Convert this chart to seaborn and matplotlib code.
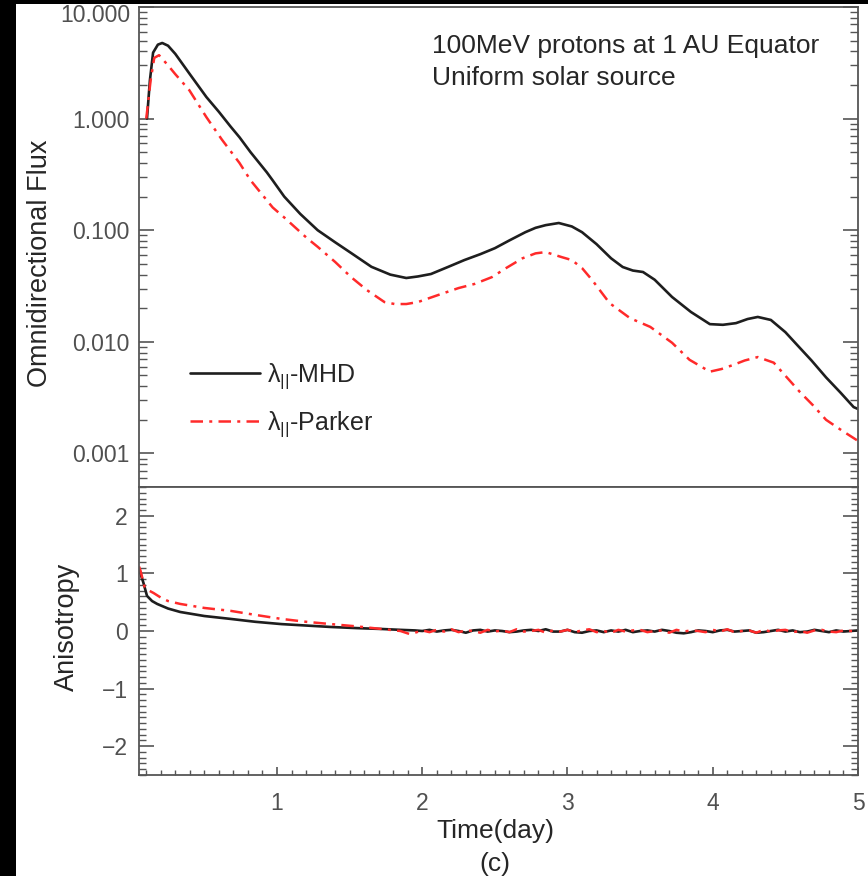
import numpy as np
import pandas as pd
import matplotlib
matplotlib.use("Agg")
import matplotlib.pyplot as plt
import seaborn as sns
from matplotlib.patches import Rectangle
from matplotlib.ticker import FixedLocator, FixedFormatter, LogLocator, NullFormatter, MultipleLocator

# ---------------- data ----------------
t_mhd = [0.105, 0.125, 0.147, 0.18, 0.21, 0.25, 0.30, 0.40, 0.514, 0.60,
         0.68, 0.742, 0.818, 0.93, 0.97, 1.05, 1.16, 1.28, 1.40, 1.51,
         1.65, 1.78, 1.89, 1.97, 2.06, 2.18, 2.29, 2.40, 2.50, 2.60,
         2.71, 2.78, 2.85, 2.94, 3.03, 3.10, 3.20, 3.30, 3.38, 3.45,
         3.52, 3.60, 3.72, 3.85, 3.98, 4.07, 4.16, 4.24, 4.31, 4.40,
         4.50, 4.58, 4.68, 4.78, 4.88, 4.97, 5.0]
flux_mhd = [1.0, 2.2, 3.9, 4.6, 4.76, 4.5, 3.8, 2.5, 1.56, 1.15,
            0.85, 0.68, 0.50, 0.33, 0.28, 0.20, 0.14, 0.10, 0.078, 0.0625,
            0.047, 0.040, 0.0373, 0.0385, 0.0405, 0.047, 0.054, 0.061, 0.069, 0.081,
            0.096, 0.105, 0.111, 0.116, 0.108, 0.096, 0.075, 0.056, 0.0468, 0.0435,
            0.0422, 0.036, 0.0252, 0.0185, 0.0144, 0.0142, 0.0147, 0.016, 0.0167, 0.0157,
            0.0122, 0.0094, 0.0068, 0.0048, 0.0035, 0.0026, 0.0025]

t_parker = [0.10, 0.13, 0.155, 0.188, 0.25, 0.30, 0.396, 0.514, 0.62, 0.742,
            0.818, 0.97, 1.05, 1.206, 1.28, 1.40, 1.51, 1.62, 1.74, 1.81,
            1.89, 1.97, 2.10, 2.25, 2.36, 2.48, 2.58, 2.69, 2.78, 2.85,
            2.96, 3.03, 3.10, 3.17, 3.29, 3.43, 3.57, 3.72, 3.84, 3.98,
            4.06, 4.14, 4.22, 4.31, 4.42, 4.51, 4.60, 4.69, 4.78, 4.89,
            4.99, 5.0]
flux_parker = [1.0, 2.2, 3.5, 3.7, 3.0, 2.5, 1.8, 1.03, 0.65, 0.40,
               0.28, 0.16, 0.13, 0.085, 0.071, 0.052, 0.038, 0.029, 0.0227, 0.0218,
               0.0218, 0.0227, 0.026, 0.0303, 0.033, 0.038, 0.046, 0.056, 0.062, 0.0637,
               0.0574, 0.054, 0.0458, 0.0357, 0.0222, 0.0163, 0.0136, 0.0098, 0.0069, 0.0054,
               0.0057, 0.0062, 0.0068, 0.0073, 0.0065, 0.0048, 0.00355, 0.0027, 0.0020, 0.0016,
               0.00132, 0.0013]

t_aniso_mhd = [0.05, 0.06, 0.08, 0.105, 0.14, 0.175, 0.25, 0.334, 0.5, 0.68, 0.85, 1.03, 1.2, 1.37,
               1.55, 1.72, 1.85, 1.95,
               2.0, 2.05, 2.1, 2.15, 2.2, 2.25, 2.3, 2.35, 2.4, 2.45, 2.5, 2.55, 2.6, 2.65, 2.7, 2.75,
               2.8, 2.85, 2.9, 2.95, 3.0, 3.05, 3.1, 3.15, 3.2, 3.25, 3.3, 3.35, 3.4, 3.45, 3.5, 3.55,
               3.6, 3.65, 3.7, 3.75, 3.8, 3.85, 3.9, 3.95, 4.0, 4.05, 4.1, 4.15, 4.2, 4.25, 4.3, 4.35,
               4.4, 4.45, 4.5, 4.55, 4.6, 4.65, 4.7, 4.75, 4.8, 4.85, 4.9, 4.95, 5.0]
aniso_mhd = [1.08, 1.0, 0.84, 0.61, 0.52, 0.47, 0.39, 0.33, 0.26, 0.21, 0.16, 0.12, 0.095, 0.07,
             0.05, 0.035, 0.02, 0.01,
             0.0, 0.02, -0.01, 0.01, 0.02, 0.0, -0.03, 0.01, 0.02, -0.01, 0.01, 0.0, -0.02, -0.01, 0.01, 0.02,
             0.0, 0.03, -0.01, -0.01, 0.02, -0.02, -0.03, 0.0, 0.01, -0.02, 0.01, -0.01, 0.02, -0.02, 0.0, 0.01,
             -0.01, 0.02, 0.0, -0.03, -0.04, -0.02, 0.01, 0.0, -0.02, 0.01, 0.02, -0.01, 0.0, 0.01, -0.03, -0.02,
             0.0, 0.02, -0.01, 0.01, -0.02, -0.01, 0.02, 0.0, -0.02, 0.01, -0.01, 0.0, 0.01]

t_aniso_parker = [0.05, 0.06, 0.075, 0.09, 0.12, 0.15, 0.2, 0.25, 0.334, 0.5, 0.68, 0.85, 1.03, 1.2,
                  1.37, 1.55, 1.72, 1.85, 1.91, 1.95,
                  2.0, 2.05, 2.1, 2.15, 2.2, 2.25, 2.3, 2.35, 2.4, 2.45, 2.5, 2.55, 2.6, 2.65, 2.7, 2.75,
                  2.8, 2.85, 2.9, 2.95, 3.0, 3.05, 3.1, 3.15, 3.2, 3.25, 3.3, 3.35, 3.4, 3.45, 3.5, 3.55,
                  3.6, 3.65, 3.7, 3.75, 3.8, 3.85, 3.9, 3.95, 4.0, 4.05, 4.1, 4.15, 4.2, 4.25, 4.3, 4.35,
                  4.4, 4.45, 4.5, 4.55, 4.6, 4.65, 4.7, 4.75, 4.8, 4.85, 4.9, 4.95, 5.0]
aniso_parker = [1.12, 1.05, 0.9, 0.75, 0.70, 0.66, 0.58, 0.52, 0.47, 0.40, 0.35, 0.28, 0.21, 0.16,
                0.12, 0.08, 0.035, 0.0, -0.05, -0.03,
                0.01, -0.02, 0.02, -0.01, 0.03, -0.02, 0.01, 0.0, -0.03, 0.02, -0.01, 0.01, -0.02, 0.03, -0.01, 0.0,
                0.02, -0.03, 0.01, -0.01, 0.02, -0.02, 0.01, 0.03, -0.02, 0.0, -0.03, 0.02, -0.01, 0.01, 0.02, -0.02,
                0.0, 0.01, -0.03, 0.02, -0.01, 0.01, 0.0, -0.02, 0.02, -0.01, 0.03, -0.02, 0.0, 0.01, -0.03, 0.02,
                -0.01, 0.01, 0.02, -0.02, 0.0, -0.03, 0.01, 0.02, -0.01, -0.02, 0.01, 0.0, -0.01]

flux_ticks = [0.001, 0.01, 0.1, 1.0, 10.0]
flux_ticklabels = ["0.001", "0.010", "0.100", "1.000", "10.000"]
aniso_ticks = [-2, -1, 0, 1, 2]
aniso_ticklabels = ["\u22122", "\u22121", "0", "1", "2"]
time_ticks = [1, 2, 3, 4, 5]
time_ticklabels = ["1", "2", "3", "4", "5"]
series_labels = ["\u03bb$_{\\mathrm{||}}$-MHD", "\u03bb$_{\\mathrm{||}}$-Parker"]

# ---------------- style ----------------
sns.set_style("white")
plt.rcParams["font.family"] = ["Liberation Sans", "DejaVu Sans"]
plt.rcParams["mathtext.fontset"] = "custom"
plt.rcParams["mathtext.rm"] = "Liberation Sans"
plt.rcParams["mathtext.it"] = "Liberation Sans:italic"
plt.rcParams["axes.unicode_minus"] = True

W, H = 868, 876
fx = lambda px: px / W
fy = lambda py: 1 - py / H

fig = plt.figure(figsize=(W / 100, H / 100), dpi=100, facecolor="black")
fig.add_artist(Rectangle((fx(16), 0), 1 - fx(16), 1 - 4 / H, transform=fig.transFigure,
                         facecolor="white", edgecolor="none", zorder=-10))

ax1 = fig.add_axes([fx(139), fy(487), (858 - 139) / W, (487 - 7) / H])
ax2 = fig.add_axes([fx(139), fy(775), (858 - 139) / W, (775 - 487) / H])

BLACK = "#1e1e1e"
RED = "#ff2a2a"
SPINE = "#555555"
TXT = "#262626"
TICKTXT = "#505050"

# upper panel
sns.lineplot(x=t_mhd, y=flux_mhd, ax=ax1, color=BLACK, lw=1.9, label=series_labels[0], sort=False)
sns.lineplot(x=t_parker, y=flux_parker, ax=ax1, color=RED, lw=1.8, label=series_labels[1], sort=False)
ax1.lines[1].set_dashes([5, 2.5, 1.2, 2.5])
ax1.set_yscale("log")
ax1.set_xlim(0.05, 5)
ax1.set_ylim(5e-4, 10)
ax1.yaxis.set_major_locator(FixedLocator(flux_ticks))
# the top label sits a little below its tick in the reference; it is drawn separately below
ax1.yaxis.set_major_formatter(FixedFormatter(flux_ticklabels[:-1] + [""]))
ax1.yaxis.set_minor_locator(LogLocator(base=10, subs=np.arange(2, 10), numticks=20))
ax1.yaxis.set_minor_formatter(NullFormatter())
ax1.tick_params(axis="x", which="both", bottom=False, top=False, labelbottom=False)
ax1.tick_params(axis="y", which="major", direction="in", left=True, right=True, length=11, width=1.2,
                color=SPINE, labelsize=16.5, labelcolor=TICKTXT, pad=6.5)
ax1.tick_params(axis="y", which="minor", direction="in", left=True, right=True, length=5.5, width=1.0,
                color=SPINE)
ax1.set_xlabel("")
ax1.set_ylabel("")

leg = ax1.legend(loc="upper left", bbox_to_anchor=(0.0709, 0.262), frameon=False, fontsize=18,
                 handlelength=2.8, handletextpad=0.3, labelspacing=0.75, borderpad=0, borderaxespad=0)
for txt in leg.get_texts():
    txt.set_color(TXT)

# lower panel
sns.lineplot(x=t_aniso_mhd, y=aniso_mhd, ax=ax2, color=BLACK, lw=1.9, legend=False, sort=False)
sns.lineplot(x=t_aniso_parker, y=aniso_parker, ax=ax2, color=RED, lw=1.8, legend=False, sort=False)
ax2.lines[1].set_dashes([5, 2.5, 1.2, 2.5])
ax2.set_xlim(0.05, 5)
ax2.set_ylim(-2.5, 2.5)
ax2.yaxis.set_major_locator(FixedLocator(aniso_ticks))
ax2.yaxis.set_major_formatter(FixedFormatter(aniso_ticklabels))
ax2.yaxis.set_minor_locator(MultipleLocator(0.1))
ax2.xaxis.set_major_locator(FixedLocator(time_ticks))
ax2.xaxis.set_major_formatter(FixedFormatter(time_ticklabels))
ax2.xaxis.set_minor_locator(MultipleLocator(0.1))
ax2.tick_params(axis="y", which="major", direction="in", left=True, right=True, length=11, width=1.2,
                color=SPINE, labelsize=16.5, labelcolor=TICKTXT, pad=8)
ax2.tick_params(axis="y", which="minor", direction="in", left=True, right=True, length=5, width=1.0,
                color=SPINE)
ax2.tick_params(axis="x", which="major", direction="in", bottom=True, top=False, length=6, width=1.2,
                color=SPINE, labelsize=16.5, labelcolor=TICKTXT, pad=12)
ax2.tick_params(axis="x", which="minor", direction="in", bottom=True, top=False, length=3.5, width=1.0,
                color=SPINE)
ax2.set_xlabel("")
ax2.set_ylabel("")

for ax in (ax1, ax2):
    ax.set_facecolor("white")
    for s in ax.spines.values():
        s.set_color(SPINE)
        s.set_linewidth(1.3)
        s.set_visible(True)

# texts
fig.text(fx(130), fy(15), flux_ticklabels[-1], fontsize=16.5, color=TICKTXT, ha="right", va="center")
fig.text(fx(432), fy(53), "100MeV protons at 1 AU Equator", fontsize=19, color=TXT, ha="left", va="baseline")
fig.text(fx(432), fy(85), "Uniform solar source", fontsize=19, color=TXT, ha="left", va="baseline")
fig.text(fx(40), fy(263), "Omnidirectional Flux", fontsize=19.5, color=TXT, rotation=90, ha="center", va="center")
fig.text(fx(67), fy(627), "Anisotropy", fontsize=19.5, color=TXT, rotation=90, ha="center", va="center")
fig.text(fx(495), fy(831), "Time(day)", fontsize=19, color=TXT, ha="center", va="center")
fig.text(fx(495), fy(864), "(c)", fontsize=19, color=TXT, ha="center", va="center")

fig.savefig("out.png", dpi=100, facecolor=fig.get_facecolor())
